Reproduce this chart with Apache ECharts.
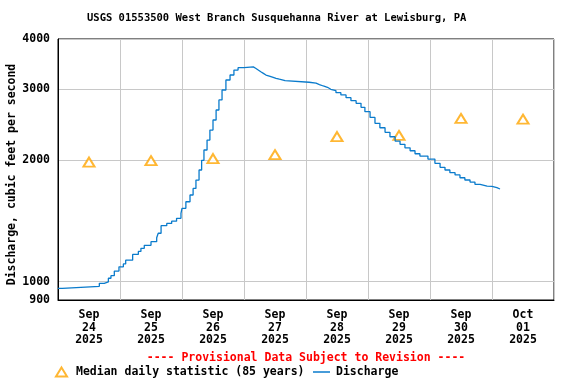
<!DOCTYPE html>
<html><head><meta charset="utf-8">
<script src="https://cdn.jsdelivr.net/npm/echarts@6/dist/echarts.min.js"></script>
<style>html,body{margin:0;padding:0;background:#fff}#c{width:576px;height:384px}</style>
</head><body><div id="c"></div>
<script>
const chartTitle = 'USGS 01553500 West Branch Susquehanna River at Lewisburg, PA';
const provisionalNote = '---- Provisional Data Subject to Revision ----';
const yAxisName = 'Discharge, cubic feet per second';
const dayLabels = ['Sep\n24\n2025','Sep\n25\n2025','Sep\n26\n2025','Sep\n27\n2025','Sep\n28\n2025','Sep\n29\n2025','Sep\n30\n2025','Oct\n01\n2025'];
const yTicks = [900, 1000, 2000, 3000, 4000];
// hours since Sep 24 00:00
const dischargeHours = [0,1.7,16,17.9,19.5,20.5,21.8,23.6,25.3,26.2,28.9,31.1,32.1,33.4,36,38.2,38.8,39.9,42.1,44,45.9,47.6,
  48.0,49.5,51.1,52.3,53.4,54.6,55.6,56.5,57.7,58.8,60,61.2,62.3,63.5,65,66.6,68.1,69.7,72,
  75.6,76.5,77.5,78.5,79.5,80.5,81.8,83.3,84.4,85.7,87.9,97.2,99.9,101.2,102.7,104.3,105.6,107.6,109.5,111.5,113.4,115.4,117.3,118.8,120.8,
  122.7,124.6,126.6,128.5,130.5,132.4,134.3,136.3,138.2,140.1,143.2,145.9,147.9,149.8,151.7,153.7,155.6,157.5,159.5,161.4,163.4,166.1,168,169.9,171.1];
const dischargeValues = [962,973,990,998,1019,1034,1062,1088,1106,1130,1168,1188,1209,1230,1256,1285,1318,1376,1394,1412,1435,1477,
  1520,1578,1640,1703,1786,1892,2000,2121,2245,2377,2518,2666,2824,2989,3164,3256,3350,3395,3410,
  3383,3351,3317,3287,3256,3237,3214,3196,3179,3153,3124,3107,3083,3058,3035,3001,2977,2943,2905,2860,2811,2770,2707,2640,2555,
  2471,2409,2347,2288,2232,2191,2148,2112,2076,2049,2014,1966,1921,1892,1863,1839,1810,1787,1766,1743,1726,1723,1710,1697,1697];
const medianHours = [12,36,60,84,108,132,156,180];
const medianValues = [1980,1995,2020,2065,2290,2305,2540,2530];

const FONT = '"DejaVu Sans Mono", "Liberation Mono", monospace';
const lg = v => Math.log10(v);
const chart = echarts.init(document.getElementById('c'), null, {renderer: 'canvas'});
const txt = (size, color) => ({fontFamily: FONT, fontWeight: 'bold', fontSize: size, color: color || '#000'});

chart.setOption({
  animation: false,
  backgroundColor: '#fff',
  title: [
    {text: chartTitle, left: 87, top: 13, padding: 0, textStyle: txt(10.5)},
    {text: provisionalNote, left: 306, textAlign: 'center', top: 352, padding: 0, textStyle: txt(11.5, '#ff0000')}
  ],
  grid: {left: 58, right: 22, top: 39, bottom: 84, show: true, borderColor: '#000', borderWidth: 1,
         containLabel: false, outerBoundsMode: 'none'},
  legend: [
    {data: ['Median daily statistic (85 years)'], left: 55, top: 366, padding: 0, itemWidth: 11, itemHeight: 9,
     textStyle: Object.assign(txt(11.5), {padding: [0, 0, 0, 4]})},
    {data: ['Discharge'], left: 313, top: 366, padding: 0, itemWidth: 17, itemHeight: 1.5, icon: 'rect',
     textStyle: Object.assign(txt(11.5), {padding: [0, 0, 0, 1]})}
  ],
  xAxis: [
    {type: 'value', min: 0, max: 192, interval: 24,
     axisLine: {show: true, lineStyle: {color: '#000'}}, axisTick: {show: false}, axisLabel: {show: false},
     splitLine: {show: true, lineStyle: {color: '#c8c8c8', width: 1}}},
    {type: 'category', data: dayLabels, position: 'bottom', boundaryGap: true,
     axisLine: {show: false}, axisTick: {show: false}, splitLine: {show: false},
     axisLabel: Object.assign(txt(11.5), {interval: 0, lineHeight: 12.5, margin: 9})}
  ],
  yAxis: {
    type: 'value', min: lg(900), max: lg(4000),
    axisLine: {show: true, lineStyle: {color: '#000'}},
    axisTick: {show: false, customValues: yTicks.map(lg)},
    axisLabel: Object.assign(txt(11.5), {customValues: yTicks.map(lg), margin: 8, formatter: v => String(Math.round(Math.pow(10, v)))}),
    splitLine: {show: true, lineStyle: {color: '#c8c8c8', width: 1}},
    name: yAxisName, nameLocation: 'middle', nameGap: 40, nameMoveOverlap: false,
    nameTextStyle: Object.assign(txt(11.5), {padding: [0, 10, 0, 0]})
  },
  series: [
    {name: 'Median daily statistic (85 years)', type: 'scatter', xAxisIndex: 0,
     symbol: 'emptyTriangle', symbolSize: [11, 9],
     itemStyle: {color: '#ffa500', borderWidth: 1},
     data: medianHours.map((h, i) => [h, lg(medianValues[i])])},
    {name: 'Discharge', type: 'line', xAxisIndex: 0, step: 'end', symbol: 'none',
     lineStyle: {color: '#0a7bcc', width: 1.3}, itemStyle: {color: '#0a7bcc'},
     data: dischargeHours.map((h, i) => [h, lg(dischargeValues[i])])}
  ]
});
</script></body></html>
